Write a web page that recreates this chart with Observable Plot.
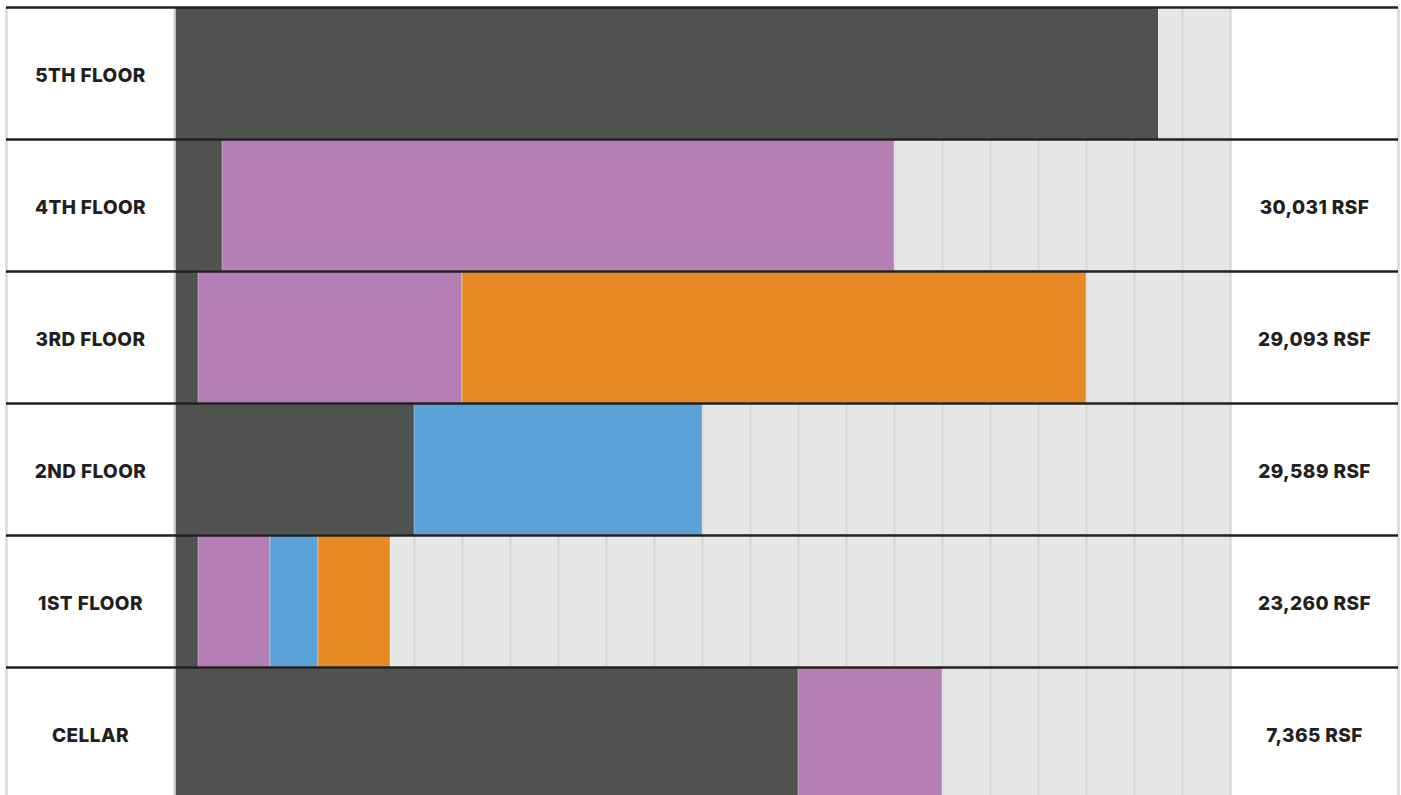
<!DOCTYPE html>
<html>
<head>
<meta charset="utf-8">
<script src="https://cdn.jsdelivr.net/npm/d3@7"></script>
<script src="https://cdn.jsdelivr.net/npm/@observablehq/plot@0.6"></script>
<style>
  html, body { margin: 0; padding: 0; background: #ffffff; overflow: hidden; }
  #chart svg { display: block; }
  #chart svg text { letter-spacing: 0.4px; }
</style>
</head>
<body>
<div id="chart"></div>
<script>
// Floors, top to bottom
const floors = ["5TH FLOOR", "4TH FLOOR", "3RD FLOOR", "2ND FLOOR", "1ST FLOOR", "CELLAR"];
// Rentable square feet labels shown on the right
const rsfLabels = ["", "30,031 RSF", "29,093 RSF", "29,589 RSF", "23,260 RSF", "7,365 RSF"];
// Building length in grid units (each gray cell = 2 units)
const totalUnits = 44;
// Stacking segments (units along the floor)
const segFloor = ["5TH FLOOR", "4TH FLOOR", "4TH FLOOR", "3RD FLOOR", "3RD FLOOR", "3RD FLOOR",
                  "2ND FLOOR", "2ND FLOOR", "1ST FLOOR", "1ST FLOOR", "1ST FLOOR", "1ST FLOOR",
                  "CELLAR", "CELLAR"];
const segStart = [0, 0, 2, 0, 1, 12, 0, 10, 0, 1, 4, 6, 0, 26];
const segEnd   = [41, 2, 30, 1, 12, 38, 10, 22, 1, 4, 6, 9, 26, 32];
const segType  = ["Occupied", "Occupied", "Tenant A", "Occupied", "Tenant A", "Tenant C",
                  "Occupied", "Tenant B", "Occupied", "Tenant A", "Tenant B", "Tenant C",
                  "Occupied", "Tenant A"];
const typeNames  = ["Occupied", "Tenant A", "Tenant B", "Tenant C"];
const typeColors = ["#505250", "#b57fb5", "#5ba2d8", "#e78a23"];

const rowIndex = new Map(floors.map((f, i) => [f, i]));
const segments = segFloor.map((f, i) => ({
  row: rowIndex.get(f), x1: segStart[i], x2: segEnd[i], type: segType[i]
}));
const rows = floors.map((f, i) => ({floor: f, row: i, rsf: rsfLabels[i]}));
const gridTicks = d3.range(2, totalUnits, 2);
const boundaries = d3.range(0, floors.length + 1);
const colorOf = new Map(typeNames.map((t, i) => [t, typeColors[i]]));

const labelStyle = {
  fontFamily: "Inter, 'Open Sans', sans-serif", fontWeight: 800, fontSize: 19,
  fill: "#231f20", textAnchor: "middle", dy: 2
};

const chart = Plot.plot({
  width: 1401,
  height: 795,
  margin: 0,
  style: {background: "#ffffff", overflow: "hidden"},
  x: {domain: [-7, totalUnits + 7], range: [6, 1398], axis: null},
  y: {domain: [0, floors.length], range: [7, 7 + 132 * floors.length], axis: null},
  marks: [
    // gray empty floor background
    Plot.rect(rows, {x1: 0, x2: totalUnits, y1: "row", y2: d => d.row + 1, fill: "#e7e7e7"}),
    // cell grid lines
    Plot.ruleX(gridTicks, {x: d => d, y1: 0, y2: floors.length, stroke: "#d7d7d7", strokeWidth: 2}),
    // occupancy segments
    Plot.rect(segments, {
      x1: "x1", x2: "x2", y1: "row", y2: d => d.row + 1,
      fill: d => colorOf.get(d.type),
      stroke: d => d.type === "Occupied" ? "none" : "#ffffff",
      strokeOpacity: 0.35, strokeWidth: 1
    }),
    // column borders
    Plot.ruleX([-7, 0, totalUnits, totalUnits + 7], {
      x: d => d, y1: 0, y2: floors.length, stroke: "#d9d9d9", strokeWidth: 2.5
    }),
    // row separators
    Plot.ruleY(boundaries, {y: d => d, x1: -7, x2: totalUnits + 7, stroke: "#231f20", strokeWidth: 2.5}),
    // floor labels
    Plot.text(rows, {x: -3.5, y: d => d.row + 0.5, text: "floor", ...labelStyle}),
    // RSF labels
    Plot.text(rows, {x: totalUnits + 3.5, y: d => d.row + 0.5, text: "rsf", ...labelStyle})
  ]
});
document.getElementById("chart").appendChild(chart);
</script>
</body>
</html>
